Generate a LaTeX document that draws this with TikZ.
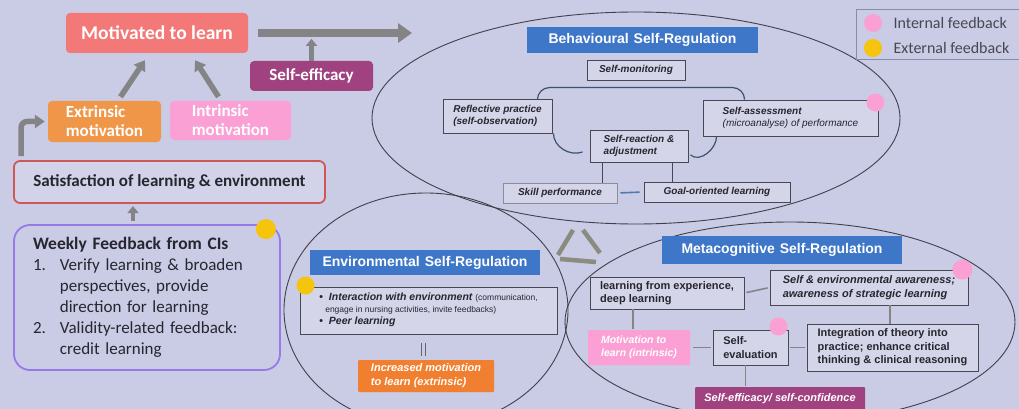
\documentclass[tikz,border=0pt]{standalone}
\usepackage{fontspec}
\setmainfont{Carlito}
\newfontfamily\arialf{Liberation Sans}
\usetikzlibrary{positioning, arrows.meta, calc, shapes.geometric}

\definecolor{bgcol}{RGB}{202,203,228}
\definecolor{salmon}{RGB}{243,120,120}
\definecolor{plum}{RGB}{160,66,128}
\definecolor{orng}{RGB}{240,150,72}
\definecolor{orngdark}{RGB}{240,128,48}
\definecolor{pnk}{RGB}{250,160,212}
\definecolor{bluetl}{RGB}{62,118,200}
\definecolor{satred}{RGB}{206,88,88}
\definecolor{wkpurple}{RGB}{150,122,232}
\definecolor{yeldot}{RGB}{246,196,12}
\definecolor{arrgray}{RGB}{132,132,134}
\definecolor{trigray}{RGB}{138,140,128}
\definecolor{darktext}{RGB}{38,38,48}
\definecolor{boxline}{RGB}{72,72,84}
\definecolor{lightline}{RGB}{140,140,160}
\definecolor{ovalline}{RGB}{64,64,76}
\definecolor{hookcol}{RGB}{62,82,112}
\definecolor{leggray}{RGB}{132,142,172}

\newcommand{\fsz}[2]{\fontsize{#1}{#2}\selectfont}

\begin{document}
\begin{tikzpicture}[
  x=1pt, y=-1pt,
  colbox/.style={rounded corners=4pt, inner sep=0pt, text=white, align=left},
  bluetitle/.style={fill=bluetl, text=white, font=\arialf\bfseries\fsz{14}{16}, inner sep=0pt},
  ibox/.style={draw=boxline, line width=0.9pt, fill=bgcol!80!white, text=darktext,
    font=\arialf\bfseries\itshape\fsz{10}{12.5}, align=left, inner sep=0pt},
  mbox/.style={ibox, font=\arialf\bfseries\fsz{11}{13.5}},
  oval/.style={ellipse, draw=ovalline, line width=0.9pt, inner sep=0pt},
  bigarrow/.style={draw=arrgray, line width=8pt, -{Triangle[length=14pt,width=19pt]}},
  garrow/.style={draw=arrgray, line width=5.5pt, -{Triangle[length=10pt,width=13pt]}},
  sarrow/.style={draw=arrgray, line width=4.5pt, -{Triangle[length=7pt,width=11pt]}},
  link/.style={draw=arrgray, line width=1.6pt},
  hook/.style={draw=hookcol, line width=1.2pt},
  pinkdot/.style={fill=pnk},
  yellowdot/.style={fill=yeldot}
]

\useasboundingbox (0,0) rectangle (1019,409);
\fill[bgcol] (0,0) rectangle (1019,409);

% Ovals
\node[oval, minimum width=528pt, minimum height=212pt] (beh) at (636,118) {};
\node[oval, minimum width=284pt, minimum height=234pt] (env) at (426,310) {};
\node[oval, minimum width=450pt, minimum height=200pt] (meta) at (790,322) {};

% Triangle between the ovals
\draw[trigray, line width=4.5pt] (558,255) -- (573,230)
  (583,230) -- (600,253)
  (560,259) -- (596,262);

% Left side: motivation
\node[colbox, fill=salmon, minimum width=182pt, minimum height=40pt,
  font=\fsz{19.5}{21}\bfseries] (mot) at (157,33) {Motivated to learn};
\node[colbox, fill=plum, minimum width=123pt, minimum height=30pt,
  font=\fsz{17}{19}\bfseries] (eff) at (311.5,76) {Self-efficacy};
\node[colbox, fill=orng, minimum width=113pt, minimum height=41pt,
  font=\fsz{17}{19}\bfseries] (ext) at (104.5,121.5) {Extrinsic\\motivation};
\node[colbox, fill=pnk, minimum width=121pt, minimum height=39pt,
  font=\fsz{17}{19}\bfseries] (intr) at (230.5,120.5) {Intrinsic\\motivation};
\node[draw=satred, line width=1.8pt, rounded corners=6pt, fill=bgcol!85!white,
  minimum width=311pt, minimum height=42pt, text=darktext,
  font=\fsz{17}{19}\bfseries] (sat) at (169.5,182) {Satisfaction of learning \& environment};
\node[draw=wkpurple, line width=1.8pt, rounded corners=16pt, minimum width=266pt,
  minimum height=145pt, text width=228pt, align=left, text=darktext,
  font=\fsz{17}{21}, inner sep=0pt] (wk) at (147,297.5) {%
  \begin{tabular}{@{}l@{\hspace{14pt}}l@{}}
  \multicolumn{2}{@{}l}{\fsz{17.5}{21}\bfseries Weekly Feedback from CIs}\\
  1. & Verify learning \& broaden\\
     & perspectives, provide\\
     & direction for learning\\
  2. & Validity-related feedback:\\
     & credit learning
  \end{tabular}};
\fill[yellowdot] ([xshift=-15pt,yshift=-5pt]wk.north east) circle (10pt);

\coordinate (bigtip) at (412,33);
\draw[bigarrow, shorten <=10pt] (mot.east) -- (bigtip);
\draw[sarrow] (eff.north) -- ++(0,-22);
\draw[garrow] ($(ext.north)+(16,-4)$) -- ($(mot.south)+(-12,7)$);
\draw[garrow] ($(intr.north)+(-12,-4)$) -- ($(mot.south)+(38,7)$);
\draw[garrow, rounded corners=6pt] ([xshift=8pt,yshift=4pt]sat.north west) |- ([xshift=-3pt]ext.west);
\draw[sarrow] ([xshift=-14pt,yshift=3pt]wk.north) -- ++(0,-15);

% Behavioural
\node[bluetitle, minimum width=231pt, minimum height=26pt] (btitle) at (642.5,40) {Behavioural\hspace{5pt}Self-Regulation};
\node[ibox, minimum width=98pt, minimum height=20pt] (smon) at (636,70) {Self-monitoring};
\node[ibox, minimum width=109pt, minimum height=34pt] (refl) at (497.5,116) {Reflective practice\\(self-observation)};
\node[ibox, minimum width=175pt, minimum height=36pt] (sass) at (790.5,118)
  {Self-assessment\\{\mdseries(microanalyse) of performance}};
\node[ibox, minimum width=98pt, minimum height=32pt] (sreac) at (639,146) {Self-reaction \&\\adjustment};
\node[ibox, draw=lightline, minimum width=114pt, minimum height=20pt] (skill) at (560,193) {Skill performance};
\node[ibox, minimum width=146pt, minimum height=20pt] (goal) at (717,192) {Goal-oriented learning};
\fill[pinkdot] ([xshift=-3pt,yshift=-3pt]sass.north east) circle (9pt);

\draw[hook, rounded corners=12pt] ([xshift=-15pt]refl.north east) |- ([xshift=42pt,yshift=12pt]sass.north west)
  -- ([xshift=42pt]sass.north west);
\draw[hook] ([xshift=1pt]refl.south east) to[out=-90,in=200] ([xshift=-7pt,yshift=-6pt]sreac.west);
\draw[hook] ([xshift=2pt,yshift=-9pt]sreac.east) to[out=-40,in=-90] ([xshift=14pt]sass.south west);
\draw[draw=boxline, line width=1.2pt] ([xshift=13pt]sreac.south west) -- ++(0,21);
\draw[draw=boxline, line width=1.2pt] ([xshift=-16pt]sreac.south east) -- ++(0,20);
\draw[draw=bluetl!70!gray, line width=1.6pt, shorten <=3pt, shorten >=4pt] (skill.east) -- (goal.west);

% Environmental
\node[bluetitle, minimum width=230pt, minimum height=25pt] (etitle) at (425,262.5) {Environmental\hspace{5pt}Self-Regulation};
\node[ibox, minimum width=257pt, minimum height=47pt, font=\arialf\bfseries\itshape\fsz{10.5}{12}] (ebox) at (428.5,310.5) {%
  \begin{tabular}{@{}l@{\hspace{6pt}}l@{}}
  \upshape\textbullet & Interaction with environment {\mdseries\upshape\fsz{8.5}{12}(communication,}\\
  \multicolumn{2}{@{\hspace{6pt}}l@{}}{\mdseries\upshape\fsz{8.5}{12}engage in nursing activities, invite feedbacks)}\\
  \upshape\textbullet & Peer learning
  \end{tabular}};
\fill[yellowdot] ([xshift=6pt,yshift=1pt]ebox.north west) circle (9pt);
\node[colbox, fill=orngdark, rounded corners=1pt, minimum width=136pt, minimum height=32pt,
  font=\arialf\bfseries\itshape\fsz{11}{14}] (eorg) at (426,376) {Increased motivation\\to learn (extrinsic)};
\draw[draw=boxline!80!bgcol, line width=1pt, double=bgcol, double distance=3pt,
  shorten <=9pt, shorten >=4pt] ([xshift=-5pt]ebox.south) -- ++(0,26);

% Metacognitive
\node[bluetitle, minimum width=240pt, minimum height=28pt] (mtitle) at (782,250) {Metacognitive\hspace{5pt}Self-Regulation};
\node[mbox, minimum width=154pt, minimum height=32pt] (lfe) at (667,293) {learning from experience,\\deep learning};
\node[ibox, font=\arialf\bfseries\itshape\fsz{11}{13.5}, minimum width=198pt, minimum height=35pt] (sea) at (869,287.5)
  {Self \& environmental awareness;\\awareness of strategic learning};
\node[mbox, minimum width=171pt, minimum height=47pt] (integ) at (892.5,347.5)
  {Integration of theory into\\practice; enhance critical\\thinking \& clinical reasoning};
\node[mbox, minimum width=75pt, minimum height=35pt] (sev) at (750.5,347.5) {Self-\\evaluation};
\node[colbox, fill=pnk, rounded corners=1pt, minimum width=102pt, minimum height=35pt,
  font=\arialf\bfseries\itshape\fsz{10.5}{13}] (mtl) at (639,347.5) {Motivation to\\learn (intrinsic)};
\node[colbox, fill=plum, rounded corners=1pt, minimum width=170pt, minimum height=24pt,
  font=\arialf\bfseries\itshape\fsz{11}{13}] (sefc) at (780,399) {Self-efficacy/ self-confidence};
\fill[pinkdot] ([xshift=-6pt]sea.north east) circle (10pt);
\fill[pinkdot] ([xshift=-10pt,yshift=3pt]sev.north east) circle (9pt);

\draw[link, shorten <=2pt, shorten >=2pt] (lfe.east) -- (sea.west);
\draw[link] ([xshift=21pt]sea.south) -- ++(0,19);
\draw[link, shorten <=2pt, shorten >=2pt] (integ.west) -- (sev.east);
\draw[link, shorten <=2pt, shorten >=3pt] (sev.west) -- (mtl.east);
\draw[link] ([xshift=-34pt]lfe.south) -- ++(0,20);
\draw[link] ([xshift=-5pt]sev.south) -- ++(0,21);

% Legend
\node[draw=leggray, line width=1pt, minimum width=165pt, minimum height=50pt, inner sep=0pt] (leg) at (938.5,35) {};
\node[anchor=west, font=\fsz{16}{18}, text=darktext!80!bgcol] (lint) at (890,23) {Internal feedback};
\node[anchor=west, font=\fsz{16}{18}, text=darktext!80!bgcol] (lext) at (890,48) {External feedback};
\fill[pinkdot] ([xshift=-17pt]lint.west) circle (9pt);
\fill[yellowdot] ([xshift=-17pt]lext.west) circle (9pt);

\end{tikzpicture}
\end{document}
